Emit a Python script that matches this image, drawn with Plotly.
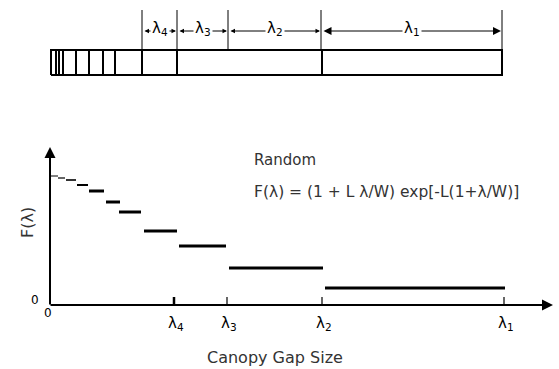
import plotly.graph_objects as go

# ---- data -------------------------------------------------------------
# gap-size classes (lambda_4 < lambda_3 < lambda_2 < lambda_1) on the size axis
gap_names = ["λ<sub>4</sub>", "λ<sub>3</sub>", "λ<sub>2</sub>", "λ<sub>1</sub>"]
gap_ticks = [124, 177, 272, 454]

# step function F(lambda): each step spans [step_start, step_end] at level step_F
step_start = [0, 8, 16, 27, 39, 56, 69, 94, 129, 179, 275]
step_end = [8, 15, 26, 38, 54, 70, 91, 127, 176, 273, 455]
step_F = [129, 127, 125, 120, 114, 103, 93, 74, 59, 37, 17]

# transect bar: cell edges along the transect and the labelled class limits
bar_edges = [1, 6, 9, 13, 26, 39, 53, 65, 92, 127, 272, 452]
class_limits = [92, 127, 178, 271, 452]
class_names = ["λ<sub>4</sub>", "λ<sub>3</sub>", "λ<sub>2</sub>", "λ<sub>1</sub>"]

# ---- styling ----------------------------------------------------------
step_widths = [1, 1.2, 1.6, 2, 3, 3, 3, 3, 3, 3, 3.2]
INK = "black"
GREY = "#333333"
SANS = "DejaVu Sans"

fig = go.Figure()

# steps of F(lambda)
for x0, x1, f, w in zip(step_start, step_end, step_F, step_widths):
    fig.add_trace(go.Scatter(x=[x0, x1], y=[f, f], mode="lines",
                             line=dict(color=INK, width=w), hoverinfo="skip"))

# small tick marks on the gap-size axis
for i, t in enumerate(gap_ticks):
    fig.add_trace(go.Scatter(x=[t, t], y=[0, 8], mode="lines",
                             line=dict(color=INK, width=2.5 if i == 0 else 1.2),
                             hoverinfo="skip"))

# transect bar outline and cell divisions (upper panel)
x0b, x1b = bar_edges[0], bar_edges[-1]
fig.add_trace(go.Scatter(x=[x0b, x1b, x1b, x0b, x0b], y=[0, 0, 1, 1, 0],
                         yaxis="y2", mode="lines",
                         line=dict(color=INK, width=2), hoverinfo="skip"))
for e in bar_edges[1:-1]:
    fig.add_trace(go.Scatter(x=[e, e], y=[0, 1], yaxis="y2", mode="lines",
                             line=dict(color=INK, width=2), hoverinfo="skip"))
# class limits rising above the bar
for c in class_limits:
    fig.add_trace(go.Scatter(x=[c, c], y=[1, 2.6], yaxis="y2", mode="lines",
                             line=dict(color=INK, width=1), hoverinfo="skip"))

annotations = []

# axes with arrowheads
annotations.append(dict(x=503, y=0, ax=-1, ay=0, xref="x", yref="y", axref="x", ayref="y",
                        text="", showarrow=True, arrowhead=2, arrowwidth=2,
                        arrowsize=1.1, arrowcolor=INK, standoff=0, startstandoff=0))
annotations.append(dict(x=0, y=158, ax=0, ay=-1, xref="x", yref="y", axref="x", ayref="y",
                        text="", showarrow=True, arrowhead=2, arrowwidth=2,
                        arrowsize=1.1, arrowcolor=INK, standoff=0, startstandoff=0))

# double arrows between class limits, with labels on top
arrow_y = 1.76
for i, name in enumerate(class_names):
    a, b = class_limits[i], class_limits[i + 1]
    big = (i == len(class_names) - 1)
    annotations.append(dict(x=b - 1, y=arrow_y, ax=a + 1, ay=arrow_y,
                            xref="x", yref="y2", axref="x", ayref="y2",
                            text="", showarrow=True, arrowhead=2, arrowside="end+start",
                            arrowwidth=1, arrowsize=1.6 if big else 0.9,
                            arrowcolor=INK, standoff=0, startstandoff=0))
    mid = (a + b) / 2
    annotations.append(dict(x=mid, y=arrow_y + 0.1, xref="x", yref="y2",
                            text=name, showarrow=False, bgcolor="white",
                            font=dict(family=SANS, size=15, color=INK),
                            borderpad=1))

# tick labels on the gap-size axis
for t, name in zip(gap_ticks, gap_names):
    annotations.append(dict(x=t + 2, y=-18, xref="x", yref="y", text=name,
                            showarrow=False, font=dict(family=SANS, size=15, color=INK)))
annotations.append(dict(x=-2, y=-8, xref="x", yref="y", text="0", showarrow=False,
                        font=dict(family=SANS, size=12, color=INK)))
annotations.append(dict(x=-15, y=5, xref="x", yref="y", text="0", showarrow=False,
                        font=dict(family=SANS, size=12, color=INK)))

# axis titles
annotations.append(dict(x=225, y=-52, xref="x", yref="y", text="Canopy Gap Size",
                        showarrow=False, font=dict(family=SANS, size=16, color=GREY)))
annotations.append(dict(x=-23, y=82, xref="x", yref="y", text="F(λ)", textangle=-90,
                        showarrow=False, font=dict(family=SANS, size=16, color=GREY)))

# model description
annotations.append(dict(x=202, y=145, xref="x", yref="y", text="Random", xanchor="left",
                        showarrow=False, font=dict(family=SANS, size=15, color=GREY)))
annotations.append(dict(x=202, y=113, xref="x", yref="y",
                        text="F(λ) = (1 + L λ/W) exp[-L(1+λ/W)]", xanchor="left",
                        showarrow=False, font=dict(family=SANS, size=15.5, color=GREY)))

fig.update_layout(
    width=559, height=369,
    margin=dict(l=0, r=0, t=0, b=0),
    paper_bgcolor="white", plot_bgcolor="white",
    showlegend=False,
    xaxis=dict(range=[-50, 509], visible=False, fixedrange=True),
    yaxis=dict(range=[-64, 305], visible=False, fixedrange=True),
    yaxis2=dict(range=[-11.76, 3.0], overlaying="y", visible=False, fixedrange=True),
    annotations=annotations,
)

fig.write_html("out.html")
